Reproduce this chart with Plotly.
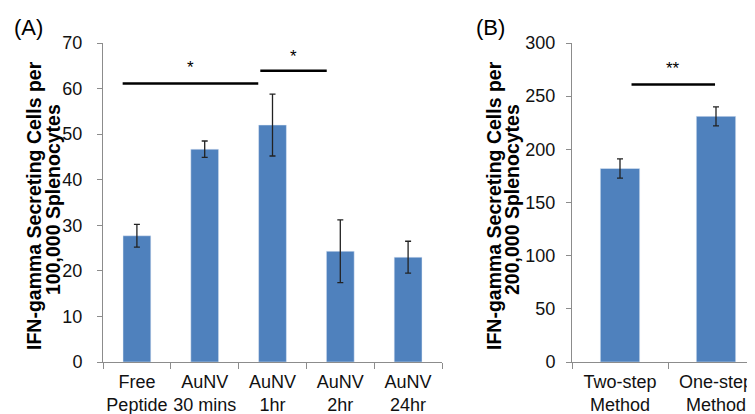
import plotly.graph_objects as go

# ---- data ----
cats_a = ["Free<br>Peptide", "AuNV<br>30 mins", "AuNV<br>1hr", "AuNV<br>2hr", "AuNV<br>24hr"]
vals_a = [27.7, 46.7, 52.0, 24.3, 23.0]
err_a = [2.5, 1.8, 6.8, 6.9, 3.5]

cats_b = ["Two-step<br>Method", "One-step<br>Method"]
vals_b = [182, 231]
err_b = [9, 9]

# significance brackets: (x start idx, x end idx, line y, label, label y)
sig_a = [(-0.21, 1.79, 61.1, "*", 64.6), (1.82, 2.8, 63.9, "*", 67.0)]
sig_b = [(0.12, 0.99, 261, "**", 276)]

FONT = "Liberation Sans, Arial, Helvetica, sans-serif"
BAR = "#4F81BD"
AX = "#8C8C8C"
W, H, OFF = 755, 414, 8  # page body margin offset


def px(xp):
    return (xp - OFF) / W


def py(yp):
    return (H - (yp - OFF)) / H


fig = go.Figure()
fig.add_trace(go.Bar(x=cats_a, y=vals_a, width=0.41, marker_color=BAR,
                     error_y=dict(type="data", array=err_a, color="#222222", thickness=1.3, width=3),
                     xaxis="x", yaxis="y", showlegend=False))
fig.add_trace(go.Bar(x=cats_b, y=vals_b, width=0.41, marker_color=BAR,
                     error_y=dict(type="data", array=err_b, color="#222222", thickness=1.3, width=3),
                     xaxis="x2", yaxis="y2", showlegend=False))

ydom = [py(362), py(43)]
xcommon = dict(type="category", showline=True, linecolor=AX, linewidth=1, ticks="outside",
               tickson="boundaries", ticklen=6, tickcolor=AX, showgrid=False, zeroline=False,
               tickangle=0, automargin=False, ticklabelstandoff=3,
               tickfont=dict(family=FONT, size=18, color="#111"))
ycommon = dict(showline=True, linecolor=AX, linewidth=1, ticks="outside", ticklen=5, tickcolor=AX,
               showgrid=False, zeroline=False, automargin=False,
               tickfont=dict(family=FONT, size=18, color="#111"))

fig.update_layout(
    width=W, height=H, autosize=False,
    margin=dict(l=0, r=0, t=0, b=0),
    paper_bgcolor="white", plot_bgcolor="white",
    xaxis=dict(domain=[px(103), px(442)], range=[-0.5, 4.5], anchor="y", **xcommon),
    yaxis=dict(domain=ydom, range=[0, 70], dtick=10, anchor="x", ticklabelstandoff=11, **ycommon),
    xaxis2=dict(domain=[px(572), 1.0], range=[-0.5, -0.5 + (W + OFF - 572) / 96], anchor="y2", **xcommon),
    yaxis2=dict(domain=ydom, range=[0, 300], dtick=50, anchor="x2", ticklabelstandoff=7, **ycommon),
    bargap=0.59,
)

shapes = []
annots = []
for x0, x1, yl, lab, ly in sig_a:
    shapes.append(dict(type="line", xref="x", yref="y", x0=x0, x1=x1, y0=yl, y1=yl,
                       line=dict(color="black", width=2.5)))
    annots.append(dict(xref="x", yref="y", x=(x0 + x1) / 2, y=ly, text=lab, showarrow=False,
                       font=dict(family=FONT, size=17, color="black")))
for x0, x1, yl, lab, ly in sig_b:
    shapes.append(dict(type="line", xref="x2", yref="y2", x0=x0, x1=x1, y0=yl, y1=yl,
                       line=dict(color="black", width=2.5)))
    annots.append(dict(xref="x2", yref="y2", x=(x0 + x1) / 2, y=ly, text=lab, showarrow=False,
                       font=dict(family=FONT, size=17, color="black")))

TF = dict(family=FONT, size=19.5, color="black")
titles = [
    (34, 206, "<b>IFN-gamma Secreting Cells per</b>"),
    (53, 200, "<b>100,000 Splenocytes</b>"),
    (494, 206, "<b>IFN-gamma Secreting Cells per</b>"),
    (512, 200, "<b>200,000 Splenocytes</b>"),
]
for xp_, yp_, t in titles:
    annots.append(dict(xref="paper", yref="paper", x=px(xp_), y=py(yp_), text=t, textangle=-90,
                       xanchor="center", yanchor="middle", showarrow=False, font=TF))

annots += [
    dict(xref="paper", yref="paper", x=px(28), y=py(28), text="(A)", showarrow=False,
         xanchor="center", yanchor="middle", font=dict(family=FONT, size=22, color="black")),
    dict(xref="paper", yref="paper", x=px(490), y=py(28), text="(B)", showarrow=False,
         xanchor="center", yanchor="middle", font=dict(family=FONT, size=22, color="black")),
]
fig.update_layout(shapes=shapes, annotations=annots)

fig.write_html("out.html")
